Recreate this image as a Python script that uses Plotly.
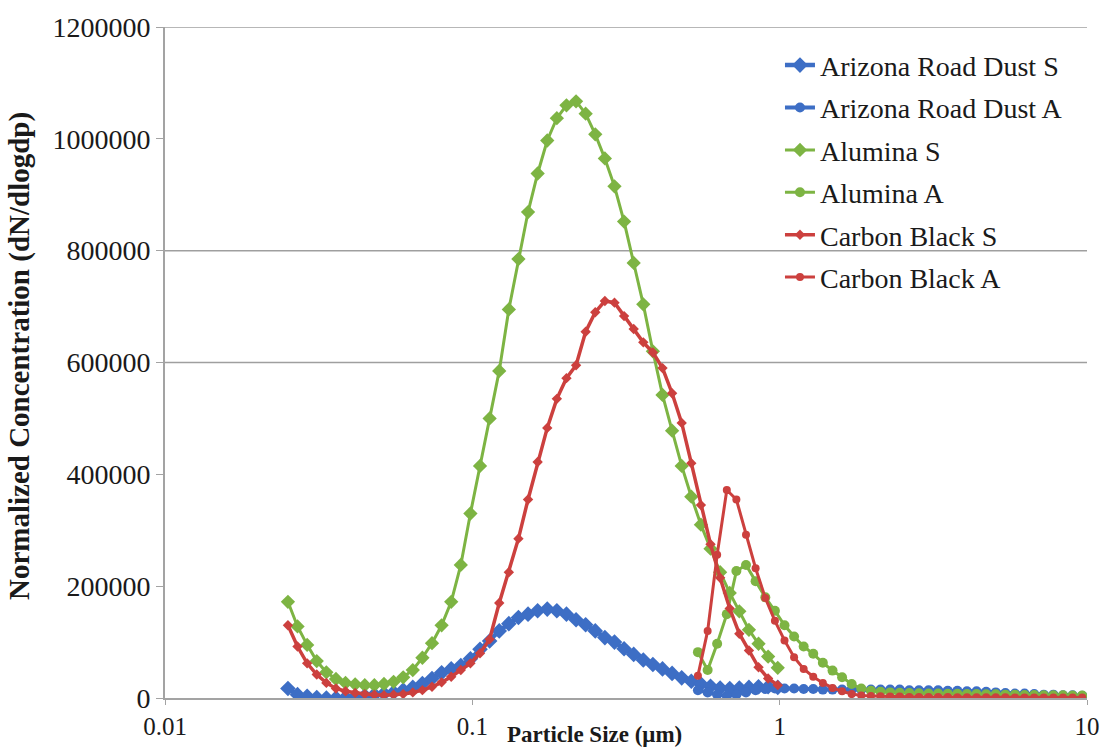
import plotly.graph_objects as go

# ---------------- data ----------------
# SMPS channel diameters (um)
d_smps = [0.02512, 0.02699, 0.02901, 0.03117, 0.03350, 0.03600, 0.03868, 0.04157, 0.04467, 0.04800,
          0.05158, 0.05543, 0.05957, 0.06401, 0.06879, 0.07392, 0.07944, 0.08536, 0.09173, 0.09858,
          0.10593, 0.11384, 0.12233, 0.13146, 0.14125, 0.15180, 0.16312, 0.17529, 0.18836, 0.20242,
          0.21752, 0.23375, 0.25119, 0.26993, 0.29007, 0.31171, 0.33497, 0.35996, 0.38681, 0.41567,
          0.44668, 0.48000, 0.51582, 0.55431, 0.59566, 0.64011, 0.68786, 0.73918, 0.79433, 0.85360,
          0.91728, 0.98571]

# APS channel diameters (um)
d_aps = [0.542, 0.583, 0.626, 0.673, 0.723, 0.777, 0.835, 0.898, 0.965, 1.037,
         1.114, 1.197, 1.286, 1.382, 1.486, 1.596, 1.715, 1.843, 1.981, 2.129,
         2.288, 2.458, 2.642, 2.839, 3.051, 3.278, 3.523, 3.786, 4.068, 4.371,
         4.698, 5.048, 5.425, 5.829, 6.264, 6.732, 7.234, 7.774, 8.354, 8.977,
         9.647]

arizona_s = [17000, 6000, 3000, 1000, 0, 0, 1000, 2000, 4000, 6000,
             8000, 10000, 14000, 19000, 26000, 35000, 45000, 52000, 58000, 70000,
             87000, 102000, 120000, 133000, 144000, 150000, 156000, 159000, 156000, 150000,
             140000, 131000, 120000, 108000, 100000, 88000, 78000, 68000, 60000, 52000,
             44000, 36000, 30000, 25000, 21000, 18000, 17000, 18000, 19000, 20000,
             20000, 19000]

alumina_s = [172000, 128000, 95000, 66000, 46000, 34000, 27000, 24500, 23000, 23000,
             25000, 29000, 37000, 50000, 72000, 98000, 130000, 172000, 238000, 330000,
             415000, 500000, 585000, 695000, 785000, 869000, 938000, 997000, 1037000, 1060000,
             1067000, 1045000, 1008000, 965000, 915000, 852000, 778000, 704000, 620000, 542000,
             478000, 415000, 360000, 310000, 267000, 225000, 188000, 155000, 122000, 97000,
             74000, 54000]

carbon_s = [130000, 92000, 62000, 42000, 27000, 17000, 12000, 9000, 7000, 6000,
            5000, 6000, 7000, 10000, 14000, 20000, 28000, 38000, 50000, 62000,
            80000, 105000, 170000, 225000, 285000, 355000, 422000, 483000, 535000, 572000,
            595000, 655000, 690000, 710000, 707000, 683000, 660000, 636000, 618000, 590000,
            545000, 492000, 420000, 345000, 275000, 215000, 160000, 115000, 85000, 55000,
            35000, 23000]

arizona_a = [14000, 10000, 6000, 4000, 6000, 10000, 14000, 16000, 17000, 17000,
             17000, 16000, 16000, 15000, 15000, 15000, 15000, 15000, 15000, 15000,
             15000, 15000, 14000, 14000, 14000, 14000, 13000, 13000, 12000, 12000,
             11000, 10000, 9000, 8000, 8000, 7000, 6000, 6000, 5000, 5000,
             4000]

alumina_a = [82000, 50000, 97000, 150000, 227000, 238000, 209000, 180000, 156000, 130000,
             110000, 92000, 79000, 63000, 49000, 37000, 25000, 17000, 13000, 11000,
             10000, 9500, 9000, 8500, 8000, 8000, 7500, 7500, 7000, 7000,
             6500, 6500, 6000, 6000, 5500, 5500, 5000, 5000, 5000, 4500,
             4500]

carbon_a = [40000, 120000, 256000, 372000, 355000, 292000, 232000, 179000, 138000, 103000,
            73000, 52000, 38000, 27000, 18000, 12000, 7000, 4500, 3500, 3000,
            2500, 2500, 2000, 2000, 2000, 2000, 2000, 1500, 1500, 1500,
            1500, 1500, 1500, 1000, 1000, 1000, 1000, 1000, 1000, 1000,
            1000]

x_tickvals = [0.01, 0.1, 1, 10]
x_ticktext = ["0.01", "0.1", "1", "10"]
y_tickvals = [0, 200000, 400000, 600000, 800000, 1000000, 1200000]
y_ticktext = ["0", "200000", "400000", "600000", "800000", "1000000", "1200000"]
grid_vals = [600000, 800000, 1200000]

BLUE = "#3D6EC5"
GREEN = "#7DB443"
RED = "#CC403E"
SERIF = "Liberation Serif"

series = [
    ("Arizona Road Dust S", d_smps, arizona_s, BLUE, "diamond", 12, 4.5),
    ("Arizona Road Dust A", d_aps, arizona_a, BLUE, "circle", 10, 4),
    ("Alumina S", d_smps, alumina_s, GREEN, "diamond", 11, 3),
    ("Alumina A", d_aps, alumina_a, GREEN, "circle", 10, 3),
    ("Carbon Black S", d_smps, carbon_s, RED, "diamond", 8, 3.5),
    ("Carbon Black A", d_aps, carbon_a, RED, "circle", 8, 3),
]

fig = go.Figure()
for name, xs, ys, col, sym, size, lw in series:
    fig.add_trace(go.Scatter(
        x=xs, y=ys, name=name, mode="lines+markers", legendgroup=name,
        line=dict(color=col, width=lw),
        marker=dict(color=col, symbol=sym, size=size),
    ))

for v in grid_vals:
    fig.add_shape(type="line", xref="paper", x0=0, x1=1, yref="y", y0=v, y1=v,
                  line=dict(color="#9f9f9f", width=1.5), layer="below")

fig.update_layout(
    width=1112, height=753,
    margin=dict(l=165, r=19, t=20, b=55),
    paper_bgcolor="white", plot_bgcolor="white",
    font=dict(family=SERIF, color="#1a1a1a"),
    showlegend=True,
    legend=dict(x=0.667, y=0.98, xanchor="left", yanchor="top",
                font=dict(family=SERIF, size=28, color="#1a1a1a"),
                bgcolor="rgba(0,0,0,0)", tracegroupgap=3),
    xaxis=dict(type="log", range=[-2, 1], tickvals=x_tickvals, ticktext=x_ticktext,
               showgrid=False, zeroline=False, showline=True, linecolor="#a3a3a3", linewidth=2,
               ticks="outside", ticklen=5, tickcolor="#a3a3a3",
               tickfont=dict(family=SERIF, size=25, color="#1a1a1a")),
    yaxis=dict(range=[0, 1200000], tickvals=y_tickvals, ticktext=y_ticktext,
               showgrid=False, zeroline=False, showline=True, linecolor="#a3a3a3", linewidth=2,
               ticks="outside", ticklen=7, tickcolor="#a3a3a3",
               tickfont=dict(family=SERIF, size=28, color="#1a1a1a")),
    annotations=[
        dict(text="<b>Particle Size (μm)</b>", xref="paper", yref="paper",
             x=0.4655, y=-0.055, xanchor="center", yanchor="middle", showarrow=False,
             font=dict(family=SERIF, size=23, color="#1a1a1a")),
        dict(text="<b>Normalized Concentration (dN/dlogdp)</b>", xref="paper", yref="paper",
             x=-0.157, y=0.51, xanchor="center", yanchor="middle", showarrow=False,
             textangle=-90, font=dict(family=SERIF, size=29, color="#1a1a1a")),
    ],
)

fig.write_html("out.html")
